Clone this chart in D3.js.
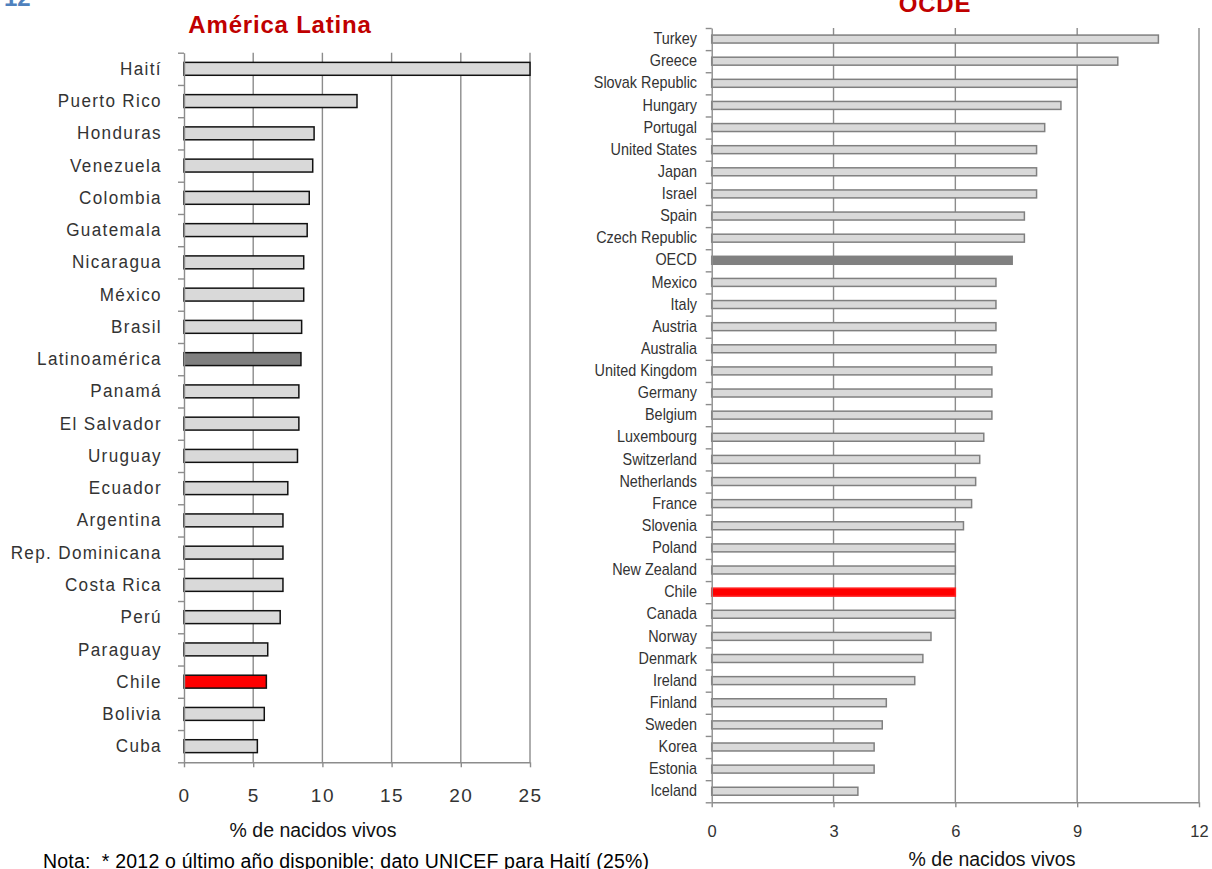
<!DOCTYPE html>
<html>
<head>
<meta charset="utf-8">
<script src="https://cdn.jsdelivr.net/npm/d3@7"></script>
<style>
  body { margin: 0; background: #fff; }
  svg { display: block; }
</style>
</head>
<body>
<svg id="chart" width="1212" height="869"></svg>
<script>
// Latin America: % of live births (low birth weight), 2012 or latest year
const laCategories = [
  "Haití", "Puerto Rico", "Honduras", "Venezuela", "Colombia", "Guatemala",
  "Nicaragua", "México", "Brasil", "Latinoamérica", "Panamá", "El Salvador",
  "Uruguay", "Ecuador", "Argentina", "Rep. Dominicana", "Costa Rica", "Perú",
  "Paraguay", "Chile", "Bolivia", "Cuba"
];
const laValues = [
  25, 12.5, 9.4, 9.3, 9.05, 8.9,
  8.65, 8.65, 8.5, 8.45, 8.3, 8.3,
  8.2, 7.5, 7.15, 7.15, 7.15, 6.95,
  6.05, 5.95, 5.8, 5.3
];
const laTicks = [0, 5, 10, 15, 20, 25];

// OECD countries
const oecdCategories = [
  "Turkey", "Greece", "Slovak Republic", "Hungary", "Portugal", "United States",
  "Japan", "Israel", "Spain", "Czech Republic", "OECD", "Mexico", "Italy",
  "Austria", "Australia", "United Kingdom", "Germany", "Belgium", "Luxembourg",
  "Switzerland", "Netherlands", "France", "Slovenia", "Poland", "New Zealand",
  "Chile", "Canada", "Norway", "Denmark", "Ireland", "Finland", "Sweden",
  "Korea", "Estonia", "Iceland"
];
const oecdValues = [
  11.0, 10.0, 9.0, 8.6, 8.2, 8.0,
  8.0, 8.0, 7.7, 7.7, 7.4, 7.0, 7.0,
  7.0, 7.0, 6.9, 6.9, 6.9, 6.7,
  6.6, 6.5, 6.4, 6.2, 6.0, 6.0,
  6.0, 6.0, 5.4, 5.2, 5.0, 4.3, 4.2,
  4.0, 4.0, 3.6
];
const oecdTicks = [0, 3, 6, 9, 12];

const axisTitle = "% de nacidos vivos";
const noteText = "Nota:  * 2012 o último año disponible; dato UNICEF para Haití (25%)";

const svg = d3.select("#chart");
const GRID = "#8c8c8c";
const FONT = "Liberation Sans, Arial, sans-serif";

function drawPanel(o) {
  const n = o.categories.length;
  const data = o.categories.map((c, i) => ({ name: c, value: o.values[i] }));
  const x = d3.scaleLinear().domain([0, d3.max(o.ticks)]).range([o.left, o.right]);
  const y = d3.scaleBand().domain(o.categories).range([o.top, o.bottom])
    .paddingInner(o.pad).paddingOuter(o.pad / 2);
  const edges = d3.scaleLinear().domain([0, n]).range([o.top, o.bottom]);

  const g = svg.append("g");

  // vertical gridlines
  g.append("g").selectAll("line")
    .data(o.ticks.filter(t => t > 0))
    .join("line")
    .attr("x1", d => x(d)).attr("x2", d => x(d))
    .attr("y1", o.top).attr("y2", o.bottom)
    .attr("stroke", GRID).attr("stroke-width", 1.4);

  // bars
  g.append("g").selectAll("rect")
    .data(data)
    .join("rect")
    .attr("x", x(0))
    .attr("y", d => y(d.name))
    .attr("width", d => x(d.value) - x(0))
    .attr("height", y.bandwidth())
    .attr("fill", d => o.fillOf(d.name))
    .attr("stroke", d => o.strokeOf(d.name))
    .attr("stroke-width", 1.5);

  // category boundary ticks + vertical axis line
  const yEdge = g.append("g")
    .attr("transform", `translate(${o.left},0)`)
    .call(d3.axisLeft(edges).tickValues(d3.range(n + 1)).tickSize(6)
      .tickSizeOuter(0).tickFormat(""));
  yEdge.selectAll("path,line").attr("stroke", GRID).attr("stroke-width", 1.4);

  // category labels
  const yLab = g.append("g")
    .attr("transform", `translate(${o.left},0)`)
    .call(d3.axisLeft(y).tickSize(0).tickPadding(o.labelPad));
  yLab.select(".domain").remove();
  yLab.selectAll("text")
    .attr("font-family", FONT)
    .attr("font-size", o.labelSize)
    .attr("letter-spacing", o.labelSpacing)
    .attr("fill", "#333")
    .attr("transform", `scale(${o.labelScaleX},1)`);

  // value axis
  const xAx = g.append("g")
    .attr("transform", `translate(0,${o.bottom})`)
    .call(d3.axisBottom(x).tickValues(o.ticks).tickSize(5).tickSizeOuter(0)
      .tickPadding(o.tickPad));
  xAx.selectAll("path,line").attr("stroke", GRID).attr("stroke-width", 1.4);
  xAx.selectAll("text")
    .attr("font-family", FONT)
    .attr("font-size", o.tickSize)
    .attr("letter-spacing", o.tickSpacing)
    .attr("fill", "#333");

  // panel title
  svg.append("text")
    .attr("x", o.titleX).attr("y", o.titleY)
    .attr("text-anchor", "middle")
    .attr("font-family", FONT)
    .attr("font-weight", "bold")
    .attr("font-size", 24)
    .attr("letter-spacing", 0.8)
    .attr("fill", "#c00000")
    .text(o.title);

  // axis title
  svg.append("text")
    .attr("x", o.axisTitleX).attr("y", o.axisTitleY)
    .attr("text-anchor", "middle")
    .attr("font-family", FONT)
    .attr("font-size", 19.5)
    .attr("fill", "#111")
    .text(axisTitle);
}

drawPanel({
  categories: laCategories, values: laValues, ticks: laTicks,
  left: 184, right: 530, top: 52.7, bottom: 762.3, pad: 0.6,
  fillOf: c => c === "Chile" ? "#ff0000" : c === "Latinoamérica" ? "#7f7f7f" : "#d9d9d9",
  strokeOf: () => "#111",
  labelSize: 19, labelSpacing: 1.5, labelScaleX: 0.9, labelPad: 24.5,
  tickSize: 19, tickSpacing: 1.5, tickPad: 21,
  title: "América Latina", titleX: 280, titleY: 33,
  axisTitleX: 313, axisTitleY: 837
});

drawPanel({
  categories: oecdCategories, values: oecdValues, ticks: oecdTicks,
  left: 711.7, right: 1199, top: 28, bottom: 802.3, pad: 0.64,
  fillOf: c => c === "Chile" ? "#ff0000" : c === "OECD" ? "#808080" : "#d9d9d9",
  strokeOf: c => c === "Chile" ? "#ff2020" : "#808080",
  labelSize: 16, labelSpacing: 0, labelScaleX: 0.9, labelPad: 16.3,
  tickSize: 16.5, tickSpacing: 0, tickPad: 18,
  title: "OCDE", titleX: 935, titleY: 12,
  axisTitleX: 992, axisTitleY: 866
});

// figure number, partly above the page edge
svg.append("text")
  .attr("x", 4).attr("y", 6)
  .attr("font-family", FONT)
  .attr("font-weight", "bold")
  .attr("font-size", 24)
  .attr("fill", "#4f81bd")
  .text("12");

// footnote (keeps the double space after "Nota:")
svg.append("text")
  .attr("x", 43).attr("y", 868)
  .attr("font-family", FONT)
  .attr("font-size", 19.5)
  .attr("letter-spacing", 0.2)
  .attr("fill", "#000")
  .style("white-space", "pre")
  .text(noteText);
</script>
</body>
</html>
